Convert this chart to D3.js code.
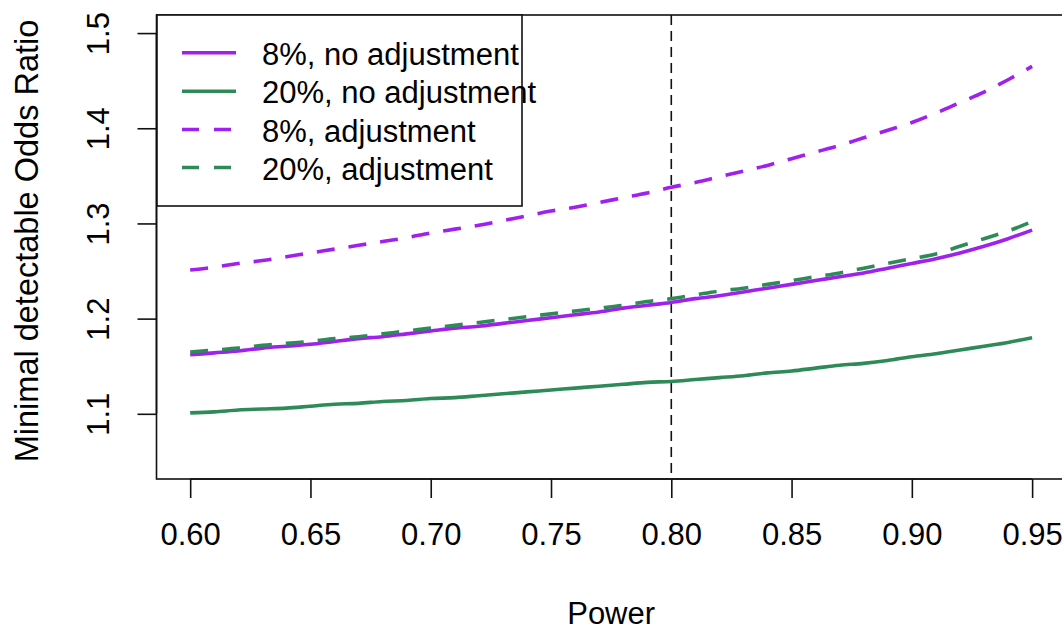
<!DOCTYPE html>
<html>
<head>
<meta charset="utf-8">
<script src="https://cdn.jsdelivr.net/npm/d3@7"></script>
<style>
  html, body { margin: 0; padding: 0; background: #fff; }
  svg { display: block; }
  text { font-family: "Liberation Sans", Arial, sans-serif; fill: #000; }
</style>
</head>
<body>
<script>
// ---- data ----
const power = [0.60,0.61,0.62,0.63,0.64,0.65,0.66,0.67,0.68,0.69,0.70,0.71,0.72,0.73,0.74,0.75,0.76,0.77,0.78,0.79,0.80,0.81,0.82,0.83,0.84,0.85,0.86,0.87,0.88,0.89,0.90,0.91,0.92,0.93,0.94,0.95];
const or8NoAdj  = [1.162,1.164,1.166,1.169,1.171,1.173,1.176,1.179,1.181,1.184,1.187,1.190,1.192,1.195,1.198,1.201,1.204,1.207,1.211,1.214,1.217,1.221,1.224,1.228,1.232,1.236,1.240,1.244,1.248,1.253,1.258,1.263,1.269,1.276,1.284,1.293];
const or20NoAdj = [1.101,1.102,1.104,1.105,1.106,1.108,1.110,1.111,1.113,1.114,1.116,1.117,1.119,1.121,1.123,1.125,1.127,1.129,1.131,1.133,1.134,1.136,1.138,1.140,1.143,1.145,1.148,1.151,1.153,1.156,1.160,1.163,1.167,1.171,1.175,1.180];
const or8Adj    = [1.251,1.254,1.258,1.261,1.265,1.269,1.273,1.277,1.281,1.285,1.290,1.294,1.298,1.303,1.308,1.313,1.317,1.322,1.327,1.332,1.338,1.343,1.349,1.355,1.361,1.368,1.375,1.382,1.390,1.398,1.406,1.416,1.427,1.438,1.451,1.465];
const or20Adj   = [1.165,1.167,1.169,1.172,1.174,1.176,1.179,1.181,1.184,1.187,1.190,1.193,1.196,1.199,1.202,1.205,1.208,1.211,1.214,1.218,1.221,1.225,1.229,1.232,1.236,1.240,1.244,1.248,1.253,1.258,1.263,1.268,1.276,1.284,1.292,1.302];
const xTicks = [0.60,0.65,0.70,0.75,0.80,0.85,0.90,0.95];
const yTicks = [1.1,1.2,1.3,1.4,1.5];
const refPower = 0.80;
const seriesNames = ["8%, no adjustment","20%, no adjustment","8%, adjustment","20%, adjustment"];
const xLabel = "Power";
const yLabel = "Minimal detectable Odds Ratio";

const purple = "#A020F0", green = "#2E8B57";
const series = [
  {name: seriesNames[0], values: or8NoAdj,  color: purple, dash: null},
  {name: seriesNames[1], values: or20NoAdj, color: green,  dash: null},
  {name: seriesNames[2], values: or8Adj,    color: purple, dash: "18,14"},
  {name: seriesNames[3], values: or20Adj,   color: green,  dash: "18,14"}
];

const W = 1062, H = 630;
const svg = d3.select("body").append("svg").attr("width", W).attr("height", H);

const x = d3.scaleLinear().domain([0.586, 0.964]).range([156.5, 1065.8]);
const y = d3.scaleLinear().domain([1.0315, 1.519]).range([479, 15]);

const FS = 31;

// plot box
svg.append("rect")
  .attr("x", x.range()[0]).attr("y", y.range()[1])
  .attr("width", x.range()[1] - x.range()[0])
  .attr("height", y.range()[0] - y.range()[1])
  .attr("fill", "none").attr("stroke", "#111").attr("stroke-width", 1.6);

// x axis
const xAxis = svg.append("g").attr("transform", `translate(0,${y.range()[0]})`)
  .call(d3.axisBottom(x).tickValues(xTicks).tickSize(19).tickPadding(25).tickFormat(d3.format(".2f")));
xAxis.select(".domain").attr("d", `M${x(xTicks[0])},0H${x(xTicks[xTicks.length-1])}`).attr("stroke", "#111").attr("stroke-width", 1.6);
xAxis.selectAll(".tick line").attr("stroke", "#111").attr("stroke-width", 1.6);
xAxis.selectAll(".tick text").attr("font-size", FS).attr("font-family", "Liberation Sans, Arial, sans-serif").attr("fill", "#000");

// y axis
const yAxis = svg.append("g").attr("transform", `translate(${x.range()[0]},0)`)
  .call(d3.axisLeft(y).tickValues(yTicks).tickSize(19).tickFormat(d3.format(".1f")));
yAxis.select(".domain").attr("d", `M0,${y(yTicks[0])}V${y(yTicks[yTicks.length-1])}`).attr("stroke", "#111").attr("stroke-width", 1.6);
yAxis.selectAll(".tick line").attr("stroke", "#111").attr("stroke-width", 1.6);
yAxis.selectAll(".tick text")
  .attr("x", null).attr("dy", null)
  .attr("text-anchor", "middle")
  .attr("transform", "translate(-48,0) rotate(-90)")
  .attr("font-size", FS).attr("font-family", "Liberation Sans, Arial, sans-serif").attr("fill", "#000");

// axis titles
svg.append("text").attr("x", (x(0.60)+x(0.95))/2).attr("y", 624)
  .attr("text-anchor", "middle").attr("font-size", FS).text(xLabel);
svg.append("text").attr("transform", `translate(38,${(y.range()[0]+y.range()[1])/2 - 6}) rotate(-90)`)
  .attr("text-anchor", "middle").attr("font-size", 32.5).text(yLabel);

// vertical reference line
svg.append("line")
  .attr("x1", x(refPower)).attr("x2", x(refPower))
  .attr("y1", y.range()[1]).attr("y2", y.range()[0])
  .attr("stroke", "#111").attr("stroke-width", 1.6).attr("stroke-dasharray", "10,6");

// lines
const line = d3.line().x((d, i) => x(power[i])).y(d => y(d)).curve(d3.curveMonotoneX);
series.forEach(s => {
  svg.append("path").datum(s.values)
    .attr("d", line)
    .attr("fill", "none").attr("stroke", s.color).attr("stroke-width", 3.6)
    .attr("stroke-dasharray", s.dash);
});

// legend
const lg = svg.append("g");
lg.append("rect").attr("x", 157).attr("y", 15).attr("width", 365).attr("height", 191)
  .attr("fill", "#fff").attr("stroke", "#111").attr("stroke-width", 1.6);
const rowY = [52.7, 91.2, 129.5, 167.5];
series.forEach((s, i) => {
  lg.append("line").attr("x1", 182).attr("x2", 236).attr("y1", rowY[i]).attr("y2", rowY[i])
    .attr("stroke", s.color).attr("stroke-width", 3.6).attr("stroke-dasharray", s.dash ? "17,15" : null);
  lg.append("text").attr("x", 262).attr("y", rowY[i] + 12).attr("font-size", FS).text(s.name);
});
</script>
</body>
</html>
